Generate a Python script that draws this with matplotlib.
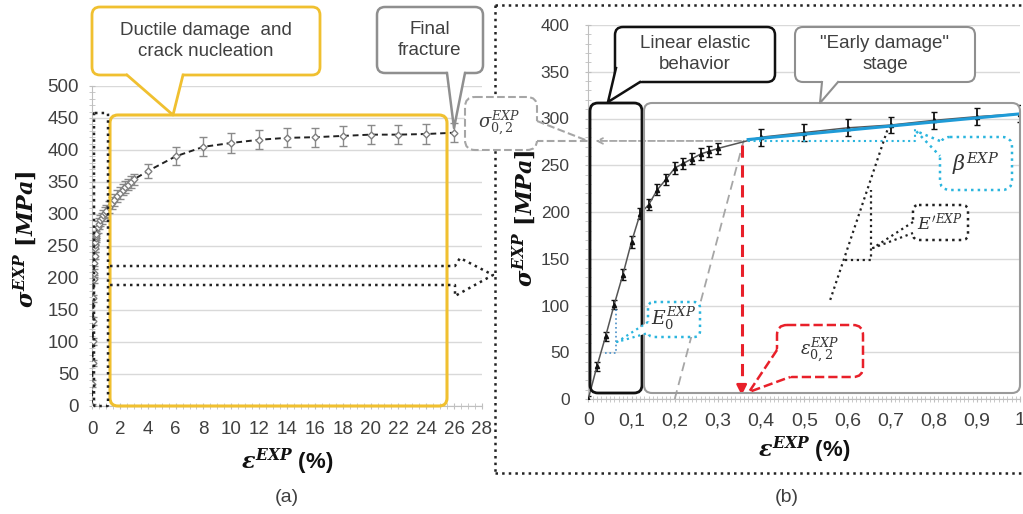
import numpy as np
import matplotlib
matplotlib.use('Agg')
import matplotlib.pyplot as plt
import matplotlib.transforms as mtransforms
from matplotlib.patches import FancyBboxPatch, Polygon
from matplotlib.lines import Line2D
from matplotlib.ticker import MultipleLocator

# Datos (b): zona de deformacion pequena
strain_b = [0, 0.02, 0.04, 0.06, 0.08, 0.10, 0.12, 0.14, 0.16, 0.18, 0.20,
            0.22, 0.24, 0.26, 0.28, 0.30, 0.40, 0.50, 0.60, 0.70, 0.80, 0.90, 1.00]
stress_b = [0, 35, 67, 101, 133, 168, 198, 208, 224, 235, 247,
            252, 257, 262, 265, 268, 280, 285, 290, 293, 298, 302, 305]
err_b = [3, 5, 5, 5, 6, 6, 6, 6, 6, 6, 6,
         6, 6, 6, 6, 6, 9, 9, 9, 9, 9, 9, 9]

# Datos (a): resto de la curva hasta rotura
strain_big = [1.2, 1.4, 1.6, 1.8, 2.0, 2.2, 2.4, 2.6, 2.8, 3.0,
              4, 6, 8, 10, 12, 14, 16, 18, 20, 22, 24, 26]
stress_big = [311, 317, 322, 328, 333, 338, 342, 346, 350, 354,
              367, 390, 405, 411, 416, 419, 420, 422, 424, 424, 425, 427]
err_big = [9, 9, 9, 9, 9, 9, 9, 9, 9, 9,
           11, 14, 15, 15, 15, 15, 15, 15, 15, 15, 15, 15]

strain_a = strain_b + strain_big
stress_a = stress_b + stress_big
err_a = err_b + err_big

# Ticks
xticks_a = list(range(0, 30, 2))
yticks_a = list(range(0, 550, 50))
xticks_b = [0, 0.1, 0.2, 0.3, 0.4, 0.5, 0.6, 0.7, 0.8, 0.9, 1.0]
xlabels_b = ['0', '0,1', '0,2', '0,3', '0,4', '0,5', '0,6', '0,7', '0,8', '0,9', '1']
yticks_b = list(range(0, 450, 50))

# Construcciones en (b)
fit_strain = [0.37, 1.0]          # ajuste lineal "early damage"
fit_stress = [277.5, 305]
off_strain = [0.2, 0.36]          # recta paralela al 0,2 %
off_stress = [0, 277]
sigma02 = 276
eps02 = 0.355
e0_tri_x = [0.039, 0.064, 0.064]
e0_tri_y = [49, 49, 97]
ep_x = [0.56, 0.694]
ep_y = [106, 290]
ep_tri_x = [0.594, 0.654, 0.654]
ep_tri_y = [149, 149, 223]
beta_x = [0.37, 0.757, 0.757]
beta_y = [276, 276, 291]

# Colores
amarillo = '#f0c030'
gris = '#8f8f8f'
cian = '#2bb5de'
azul = '#1f9bd7'
rojo = '#e8202a'
txt = '#404040'

plt.rcParams['font.family'] = ['Liberation Sans', 'DejaVu Sans']
plt.rcParams['mathtext.fontset'] = 'custom'
plt.rcParams['mathtext.it'] = 'DejaVu Serif:italic:bold'
plt.rcParams['mathtext.rm'] = 'DejaVu Serif:bold'
plt.rcParams['mathtext.bf'] = 'DejaVu Serif:bold'

W, H = 1023, 514
fig = plt.figure(figsize=(W / 100, H / 100), dpi=100)
px = mtransforms.Affine2D().scale(1 / W, -1 / H).translate(0, 1) + fig.transFigure

ax1 = fig.add_axes([92 / W, 1 - 406 / H, 390 / W, 320 / H])
ax2 = fig.add_axes([588.3 / W, 1 - 399 / H, 432 / W, 374 / H])

# Panel (a)
ax1.errorbar(strain_a, stress_a, yerr=err_a, color='#222222', lw=1.4, ls=(0, (3, 2)),
             marker='D', ms=3.5, mfc='white', mec='#808080', mew=1,
             ecolor='#8a8a8a', elinewidth=1, capsize=3, zorder=3)
ax1.set_xlim(0, 28)
ax1.set_ylim(0, 500)
ax1.set_xticks(xticks_a)
ax1.set_yticks(yticks_a)
ax1.xaxis.set_minor_locator(MultipleLocator(0.5))
ax1.yaxis.set_minor_locator(MultipleLocator(10))
ax1.tick_params(labelsize=13.5)
ax1.tick_params(axis='x', pad=8)
ax1.tick_params(axis='y', pad=7)

# Panel (b)
ax2.errorbar(strain_b, stress_b, yerr=err_b, color='#555555', lw=1.1,
             marker='^', ms=3, mfc='#111111', mec='#111111',
             ecolor='#111111', elinewidth=1.3, capsize=2.5, zorder=3)
ax2.plot(fit_strain, fit_stress, color=azul, lw=2.2, zorder=4)
ax2.plot(off_strain, off_stress, color='#a6a6a6', lw=1.3, ls=(0, (5, 3)), zorder=2)
ax2.plot(beta_x, beta_y, color=cian, lw=1.5, ls=':', zorder=4)
ax2.plot(e0_tri_x, e0_tri_y, color='#4a90c8', lw=1.2, ls=':', zorder=4)
ax2.plot(ep_x, ep_y, color='#222222', lw=1.6, ls=':', zorder=4)
ax2.plot(ep_tri_x, ep_tri_y, color='#222222', lw=1.6, ls=':', zorder=4)
ax2.plot([eps02, eps02], [sigma02 - 4, 10], color=rojo, lw=2.2, ls=(0, (4, 2.5)), zorder=5)
ax2.annotate('', xy=(eps02, 1), xytext=(eps02, 16),
             arrowprops=dict(arrowstyle='-|>,head_length=0.6,head_width=0.3',
                             color=rojo, lw=1.8), zorder=5)
ax2.annotate('', xy=(0.01, sigma02), xytext=(0.36, sigma02),
             arrowprops=dict(arrowstyle='->', color='#a6a6a6', lw=1.3, ls='--'), zorder=2)
ax2.set_xlim(0, 1)
ax2.set_ylim(0, 400)
ax2.set_xticks(xticks_b)
ax2.set_xticklabels(xlabels_b)
ax2.set_yticks(yticks_b)
ax2.xaxis.set_minor_locator(MultipleLocator(0.01))
ax2.yaxis.set_minor_locator(MultipleLocator(10))
ax2.tick_params(axis='x', labelsize=14, pad=7)
ax2.tick_params(axis='y', labelsize=12.5, pad=11)

for ax in (ax1, ax2):
    ax.spines['top'].set_visible(False)
    ax.spines['right'].set_visible(False)
    ax.spines['left'].set_color('#bfbfbf')
    ax.spines['bottom'].set_color('#bfbfbf')
    ax.tick_params(which='both', colors='#bfbfbf', labelcolor=txt, direction='inout')
    ax.tick_params(which='major', length=5)
    ax.tick_params(which='minor', length=4)
    ax.yaxis.grid(True, color='#d9d9d9', lw=1)
    ax.set_axisbelow(True)

ax1.set_ylabel(r'$\sigma^{EXP}\ [MPa]$', fontsize=16, va='center', color='#111111')
ax1.yaxis.set_label_coords(-0.172, 0.52)
ax1.set_xlabel(r'$\varepsilon^{EXP}$ (%)', fontsize=16, fontweight='bold', va='center', color='#111111')
ax1.xaxis.set_label_coords(0.5, -0.175)
ax2.set_ylabel(r'$\sigma^{EXP}\ [MPa]$', fontsize=16, va='center', color='#111111')
ax2.yaxis.set_label_coords(-0.149, 0.484)
ax2.set_xlabel(r'$\varepsilon^{EXP}$ (%)', fontsize=16, fontweight='bold', va='center', color='#111111')
ax2.xaxis.set_label_coords(0.5, -0.136)


# Ayudas para dibujar cajas y llamadas en pixeles
def caja(x0, y0, x1, y1, ec, ls='-', lw=1.5, r=8, fc='white', z=5):
    p = FancyBboxPatch((x0, y0), x1 - x0, y1 - y0,
                       boxstyle='round,pad=0,rounding_size=%g' % r,
                       transform=px, ec=ec, fc=fc, ls=ls, lw=lw, zorder=z, clip_on=False)
    fig.add_artist(p)


def cuna(b1, b2, tip, dentro, ec, ls='-', lw=1.5, z=5):
    d1 = (b1[0] + dentro[0], b1[1] + dentro[1])
    d2 = (b2[0] + dentro[0], b2[1] + dentro[1])
    fig.add_artist(Polygon([b1, tip, b2, d2, d1], closed=True, transform=px,
                           fc='white', ec='none', zorder=z + 0.1))
    fig.add_artist(Line2D([b1[0], tip[0], b2[0]], [b1[1], tip[1], b2[1]],
                          transform=px, color=ec, ls=ls, lw=lw, zorder=z + 0.2))


def linea(xs, ys, color, ls='-', lw=1.5, z=4):
    fig.add_artist(Line2D(xs, ys, transform=px, color=color, ls=ls, lw=lw, zorder=z))


def texto(x, y, s, size=13.5, color=txt, **kw):
    fig.text(x, y, s, transform=px, ha='center', va='center', fontsize=size,
             color=color, zorder=10, linespacing=1.25, **kw)


# Marco punteado de (b)
linea([495, 1023], [5, 5], '#222222', ':', 1.8)
linea([495, 495], [5, 473], '#222222', ':', 1.8)
linea([495, 1023], [473, 473], '#222222', ':', 1.8)

# Anotaciones (a)
caja(110, 115, 447, 406, amarillo, lw=2.2, fc='none', z=4)
caja(94, 113, 108, 406, '#222222', ls=':', lw=1.8, r=1, fc='none', z=4)
linea([110, 455, 460, 493, 455, 455, 110], [266, 266, 258, 275, 296, 285, 285], '#222222', ':', 1.8)
caja(92, 7, 320, 75, amarillo, lw=2)
cuna((127, 75), (183, 75), (173, 115), (0, -3), amarillo, lw=2)
texto(206, 41, 'Ductile damage  and\ncrack nucleation')
caja(377, 7, 483, 73, gris, lw=1.8)
cuna((447, 73), (465, 73), (454, 128), (0, -3), gris, lw=1.8)
texto(430, 40, 'Final\nfracture')

# sigma 0,2
caja(465, 97, 537, 150, '#a6a6a6', ls='--', lw=1.5, r=10, z=6)
cuna((537, 121), (537, 141), (588, 141), (-3, 0), '#a6a6a6', ls='--', lw=1.5, z=6)
texto(499, 123, r'$\sigma_{0,2}^{EXP}$', size=13, math_fontfamily='dejavuserif')

# Anotaciones (b)
caja(590, 103, 642, 393, '#111111', lw=2, fc='none', z=4)
caja(644, 103, 1020, 393, '#9a9a9a', lw=1.5, fc='none', z=4)
caja(615, 27, 775, 82, '#111111', lw=1.8)
cuna((616, 68), (640, 82), (608, 102), (3, -3), '#111111', lw=1.8)
texto(695, 54, 'Linear elastic\nbehavior')
caja(795, 27, 975, 82, gris, lw=1.5)
cuna((822, 82), (838, 82), (820, 103), (0, -3), gris, lw=1.5)
texto(885, 54, '"Early damage"\nstage')

caja(940, 137, 1012, 190, cian, ls=':', lw=1.8, r=10)
cuna((940, 141), (940, 156), (916, 131), (3, 0), cian, ls=':', lw=1.8)
texto(976, 164, r'$\beta^{EXP}$', size=15, color='#333333', math_fontfamily='dejavuserif')

caja(913, 205, 968, 240, '#222222', ls=':', lw=1.8, r=6)
cuna((913, 222), (913, 233), (873, 248), (3, 0), '#222222', ls=':', lw=1.6)
texto(940, 222, r"$E'^{EXP}$", size=12.5, color='#333333', math_fontfamily='dejavuserif')

caja(648, 302, 700, 337, cian, ls=':', lw=1.8, r=6)
cuna((648, 322), (648, 333), (617, 342), (3, 0), cian, ls=':', lw=1.6)
texto(674, 319, r'$E_0^{EXP}$', size=13.5, color='#333333', math_fontfamily='dejavuserif')

caja(777, 325, 863, 377, rojo, ls='--', lw=1.8, r=10)
cuna((777, 350), (790, 377), (749, 392), (3, -3), rojo, ls='--', lw=1.8)
texto(820, 350, r'$\varepsilon_{0,2}^{EXP}$', size=13, color='#333333', math_fontfamily='dejavuserif')

texto(287, 497, '(a)', size=14)
texto(787, 497, '(b)', size=14)

fig.savefig('out.png', dpi=100)
